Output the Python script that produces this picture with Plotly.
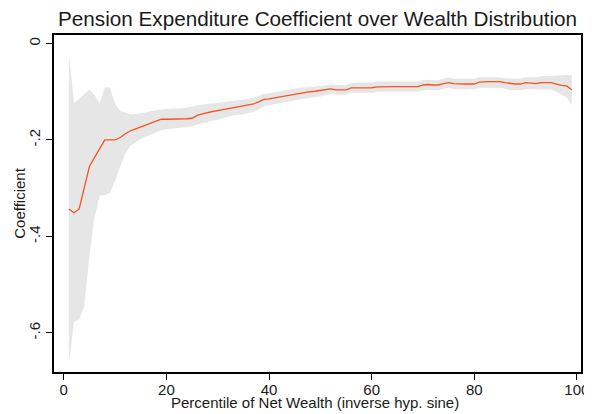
import plotly.graph_objects as go

percentile = list(range(1, 100))

coef = [-0.343, -0.351, -0.343, -0.300, -0.255, -0.236, -0.218, -0.200, -0.200, -0.200,
        -0.195, -0.187, -0.181, -0.177, -0.173, -0.169, -0.165, -0.161, -0.157, -0.157,
        -0.157, -0.157, -0.157, -0.156, -0.155, -0.149, -0.146, -0.143, -0.141, -0.139,
        -0.137, -0.134, -0.132, -0.130, -0.129, -0.127, -0.125, -0.121, -0.116, -0.115,
        -0.113, -0.111, -0.110, -0.108, -0.105, -0.103, -0.101, -0.100, -0.099, -0.097,
        -0.096, -0.094, -0.096, -0.096, -0.096, -0.092, -0.092, -0.092, -0.092, -0.092,
        -0.090, -0.0895, -0.0895, -0.0895, -0.0895, -0.0895, -0.0895, -0.0895, -0.0895, -0.086,
        -0.085, -0.086, -0.086, -0.083, -0.081, -0.083, -0.084, -0.084, -0.084, -0.084,
        -0.080, -0.079, -0.079, -0.079, -0.079, -0.081, -0.083, -0.084, -0.084, -0.081,
        -0.082, -0.083, -0.081, -0.081, -0.081, -0.084, -0.087, -0.088, -0.096]

upper = [-0.020, -0.124, -0.115, -0.104, -0.096, -0.107, -0.124, -0.091, -0.091, -0.125,
         -0.140, -0.144, -0.147, -0.146, -0.145, -0.143, -0.140, -0.138, -0.137, -0.136,
         -0.136, -0.135, -0.134, -0.133, -0.131, -0.128, -0.127, -0.126, -0.125, -0.124,
         -0.122, -0.120, -0.119, -0.118, -0.116, -0.115, -0.113, -0.108, -0.104, -0.103,
         -0.101, -0.100, -0.098, -0.096, -0.094, -0.092, -0.091, -0.090, -0.089, -0.089,
         -0.087, -0.085, -0.086, -0.086, -0.086, -0.082, -0.081, -0.081, -0.081, -0.081,
         -0.079, -0.079, -0.079, -0.079, -0.079, -0.079, -0.079, -0.079, -0.079, -0.076,
         -0.075, -0.076, -0.076, -0.073, -0.071, -0.073, -0.073, -0.073, -0.073, -0.073,
         -0.070, -0.070, -0.070, -0.070, -0.070, -0.072, -0.073, -0.073, -0.073, -0.070,
         -0.070, -0.070, -0.068, -0.068, -0.068, -0.067, -0.066, -0.065, -0.065]

lower = [-0.663, -0.577, -0.572, -0.545, -0.440, -0.360, -0.316, -0.314, -0.310, -0.285,
         -0.255, -0.228, -0.212, -0.205, -0.198, -0.193, -0.189, -0.185, -0.180, -0.178,
         -0.177, -0.176, -0.175, -0.174, -0.172, -0.168, -0.165, -0.162, -0.160, -0.158,
         -0.155, -0.152, -0.149, -0.148, -0.146, -0.144, -0.142, -0.137, -0.130, -0.128,
         -0.126, -0.124, -0.122, -0.120, -0.117, -0.115, -0.113, -0.112, -0.111, -0.110,
         -0.107, -0.105, -0.106, -0.106, -0.106, -0.102, -0.102, -0.102, -0.102, -0.102,
         -0.100, -0.100, -0.100, -0.100, -0.100, -0.100, -0.100, -0.100, -0.100, -0.097,
         -0.096, -0.097, -0.097, -0.094, -0.092, -0.095, -0.095, -0.095, -0.095, -0.095,
         -0.092, -0.092, -0.092, -0.092, -0.092, -0.094, -0.097, -0.097, -0.097, -0.095,
         -0.095, -0.095, -0.096, -0.096, -0.096, -0.100, -0.106, -0.112, -0.128]

x_ticks = [0, 20, 40, 60, 80, 100]
y_ticks = [0, -0.2, -0.4, -0.6]
y_tick_labels = ["0", "-.2", "-.4", "-.6"]

title_text = "Pension Expenditure Coefficient over Wealth Distribution"
x_title = "Percentile of Net Wealth (inverse hyp. sine)"
y_title = "Coefficient"

FONT = "Liberation Sans, Arial, sans-serif"
TXT = "#1a1a1a"

fig = go.Figure()
fig.add_trace(go.Scatter(x=percentile, y=lower, mode="lines",
                         line=dict(width=0, color="rgba(0,0,0,0)"),
                         showlegend=False, hoverinfo="skip"))
fig.add_trace(go.Scatter(x=percentile, y=upper, mode="lines",
                         line=dict(width=0, color="rgba(0,0,0,0)"),
                         fill="tonexty", fillcolor="#E6E6E6",
                         showlegend=False, hoverinfo="skip"))
fig.add_trace(go.Scatter(x=percentile, y=coef, mode="lines",
                         line=dict(width=1.3, color="#F5541E"),
                         showlegend=False))

# page body has an 8px default margin, so the figure is 8px smaller
fig.update_layout(
    width=584, height=406,
    margin=dict(l=46, r=11, t=27, b=42, autoexpand=False),
    paper_bgcolor="white", plot_bgcolor="white",
    font=dict(family=FONT, color=TXT, size=15),
    title=dict(text=title_text, xref="paper", x=0.5, xanchor="center",
               yref="container", y=0.973, yanchor="middle",
               font=dict(family=FONT, size=20.7, color=TXT)),
    annotations=[
        dict(text=x_title, xref="paper", yref="paper", x=0.495, y=-0.122,
             xanchor="center", yanchor="bottom", showarrow=False,
             font=dict(family=FONT, size=15, color=TXT)),
        dict(text=y_title, xref="paper", yref="paper", x=-0.066, y=0.50,
             xanchor="center", yanchor="middle", showarrow=False, textangle=-90,
             font=dict(family=FONT, size=15, color=TXT)),
    ],
)
fig.update_xaxes(range=[-1.9, 100.8], tickvals=x_ticks, ticks="outside", ticklen=6,
                 tickwidth=1, tickcolor="black", showgrid=False, zeroline=False,
                 showline=True, linecolor="black", linewidth=2, mirror=True,
                 automargin=False, ticklabelstandoff=-3,
                 tickfont=dict(size=15, color=TXT))
fig.update_yaxes(range=[-0.681, 0.0176], tickvals=y_ticks, ticktext=y_tick_labels,
                 ticks="outside", ticklen=6, tickwidth=1, tickcolor="black",
                 tickangle=-90, showgrid=False, zeroline=False,
                 showline=True, linecolor="black", linewidth=2, mirror=True,
                 automargin=False, tickfont=dict(size=15, color=TXT))

fig.write_html("out.html")
